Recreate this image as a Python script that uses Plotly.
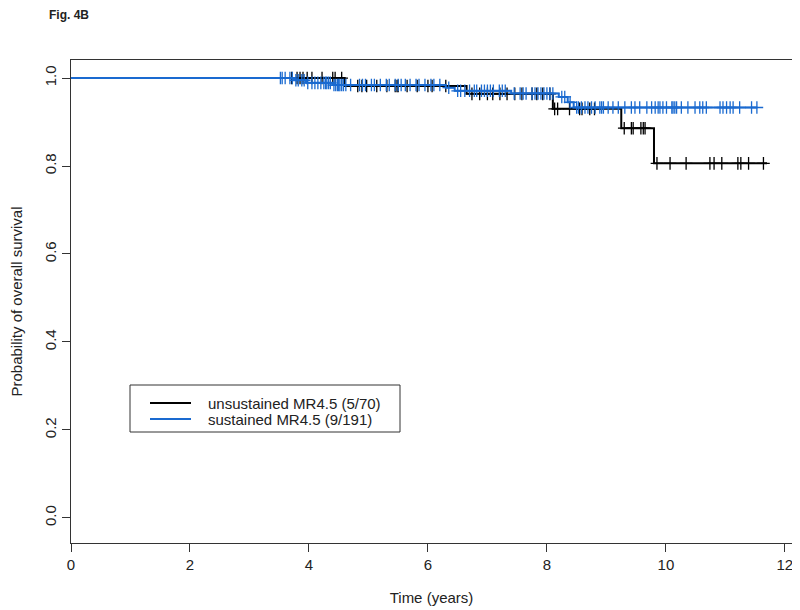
import plotly.graph_objects as go

# ---- data ----
unsus_event_t = [4.6, 6.65, 8.1, 9.25, 9.8]
unsus_surv = [0.982, 0.964, 0.930, 0.886, 0.806]
unsus_end = 11.7
unsus_censor = [3.71, 3.8, 3.85, 3.9, 3.97, 4.05, 4.22, 4.4, 4.44, 4.55,
                4.82, 4.89, 4.97, 5.14, 5.31, 5.45, 5.48, 5.5, 5.65, 5.82, 6.0, 6.07, 6.3,
                6.74, 6.87, 7.0, 7.09, 7.21, 7.33, 7.46, 7.58, 7.75, 7.83, 7.93, 8.05,
                8.13, 8.18, 8.38, 8.55, 8.59, 8.72, 8.8,
                9.3, 9.42, 9.45, 9.58, 9.62, 9.65,
                9.85, 10.07, 10.34, 10.74, 10.81, 10.94, 11.21, 11.26, 11.39, 11.64]

sus_event_t = [3.75, 3.95, 4.4, 6.3, 6.45, 7.4, 8.2, 8.35, 8.45]
sus_surv = [0.995, 0.989, 0.984, 0.978, 0.971, 0.965, 0.957, 0.945, 0.933]
sus_end = 11.53
sus_censor = [3.52, 3.55, 3.6, 3.68, 3.72,
              3.78, 3.82, 3.88, 3.92,
              3.98, 4.05, 4.1, 4.15, 4.2, 4.25, 4.28, 4.3, 4.33, 4.36,
              4.42, 4.45, 4.48, 4.5, 4.52, 4.55, 4.58, 4.62, 4.7, 4.85, 4.9, 4.95, 5.05,
              5.1, 5.2, 5.3, 5.35, 5.45, 5.5, 5.55, 5.62, 5.7, 5.8, 5.85, 5.95, 6.05, 6.1, 6.2,
              6.35, 6.5, 6.55, 6.62, 6.7, 6.78, 6.82, 6.9, 6.95, 7.0, 7.05, 7.1, 7.2, 7.25, 7.3,
              7.45, 7.55, 7.6, 7.65, 7.75, 7.8, 7.85, 7.9, 7.95, 8.0, 8.05, 8.1,
              8.25, 8.3, 8.39,
              8.5, 8.53, 8.58, 8.64, 8.69, 8.75, 8.81, 8.89, 8.92, 8.95, 9.03, 9.11, 9.2,
              9.31, 9.42, 9.48, 9.56, 9.68, 9.76, 9.82, 9.87, 9.9, 9.95, 10.01, 10.1, 10.12,
              10.15, 10.18, 10.26, 10.37, 10.49, 10.57, 10.62, 10.68, 10.91, 10.96, 11.02,
              11.08, 11.13, 11.24, 11.44, 11.53]

x_ticks = [0, 2, 4, 6, 8, 10, 12]
y_ticks = [0.0, 0.2, 0.4, 0.6, 0.8, 1.0]

names = ["unsustained MR4.5 (5/70)", "sustained MR4.5 (9/191)"]
colors = ["#000000", "#1a6ad0"]


def surv_at(t, times, surv):
    s = 1.0
    for ti, si in zip(times, surv):
        if ti <= t:
            s = si
    return s


def step_xy(times, surv, end):
    xs = [0.0] + list(times) + [end]
    ys = [1.0] + list(surv) + [surv[-1]]
    return xs, ys


fig = go.Figure()
groups = [(unsus_event_t, unsus_surv, unsus_end, unsus_censor),
          (sus_event_t, sus_surv, sus_end, sus_censor)]
for (et, sv, end, cens), name, col in zip(groups, names, colors):
    xs, ys = step_xy(et, sv, end)
    fig.add_trace(go.Scatter(x=xs, y=ys, mode="lines", line=dict(color=col, width=2, shape="hv"),
                             name=name, showlegend=False))
    fig.add_trace(go.Scatter(x=cens, y=[surv_at(c, et, sv) for c in cens], mode="markers",
                             marker=dict(symbol="cross-thin", size=9, line=dict(color=col, width=1.3)),
                             showlegend=False, hoverinfo="skip"))

# page body has an 8px margin; target pixel positions (window coords) are shifted by OFF
OFF = 8
FW, FH = 800 - OFF, 610 - OFF
PL, PR, PT, PB = 71 - OFF, 792 - OFF, 60 - OFF, 543 - OFF
W, H = PR - PL, PB - PT


def px(x):
    return (x - OFF - PL) / W


def py(y):
    return (PB - (y - OFF)) / H


shapes = [dict(type="rect", xref="paper", yref="paper",
               x0=px(130), x1=px(400), y0=py(432), y1=py(385),
               line=dict(color="#333", width=1), fillcolor="rgba(0,0,0,0)")]
annotations = [dict(text="<b>Fig. 4B</b>", xref="paper", yref="paper",
                    x=px(47), y=py(15), xanchor="left", yanchor="middle",
                    showarrow=False, font=dict(size=12, color="#222"))]
for i, (name, col) in enumerate(zip(names, colors)):
    yy = 403 + 16 * i
    shapes.append(dict(type="line", xref="paper", yref="paper", x0=px(150), x1=px(191),
                       y0=py(yy), y1=py(yy), line=dict(color=col, width=2)))
    annotations.append(dict(text=name, xref="paper", yref="paper", x=px(206), y=py(yy),
                            xanchor="left", yanchor="middle", showarrow=False,
                            font=dict(size=15, color="#222")))

font = "Liberation Sans, Arial, sans-serif"
fig.update_layout(
    width=FW, height=FH,
    margin=dict(l=PL, r=FW - PR, t=PT, b=FH - PB),
    paper_bgcolor="white", plot_bgcolor="white",
    font=dict(family=font, size=14, color="#222"),
    showlegend=False,
    xaxis=dict(range=[0, 12.12], tickvals=x_ticks, ticks="outside", ticklen=8, tickcolor="#333",
               showline=True, linecolor="#333", linewidth=1, mirror=True, showgrid=False,
               zeroline=False, automargin=False,
               title=dict(text="Time (years)", standoff=20, font=dict(size=15)),
               tickfont=dict(size=15)),
    yaxis=dict(range=[-0.057, 1.041], tickvals=y_ticks, tickformat=".1f", ticks="outside",
               ticklen=8, tickcolor="#333", tickangle=-90, showline=True, linecolor="#333",
               linewidth=1, mirror=True, showgrid=False, zeroline=False, automargin=False,
               title=dict(text="Probability of overall survival", standoff=20, font=dict(size=15)),
               tickfont=dict(size=15)),
    shapes=shapes,
    annotations=annotations,
)

fig.write_html("out.html")
